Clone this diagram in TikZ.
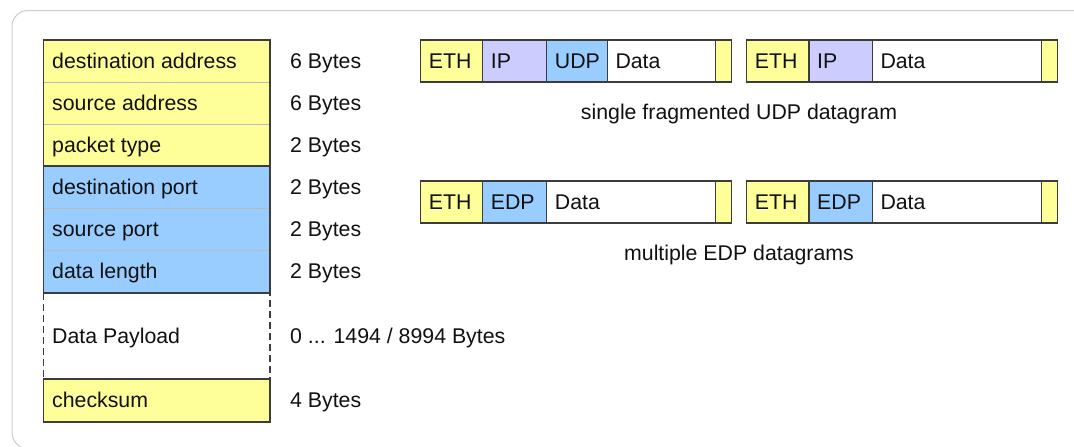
\documentclass[tikz,border=0pt]{standalone}
\usepackage{fontspec}
\setmainfont{Liberation Sans}
\definecolor{ylw}{HTML}{FFFF99}
\definecolor{blu}{HTML}{99CCFF}
\definecolor{lil}{HTML}{CCCCFF}
\definecolor{darkline}{HTML}{3C3C3C}
\definecolor{sepgray}{HTML}{BBBBBB}
\definecolor{framegray}{HTML}{CCCCCC}
\definecolor{txt}{HTML}{111111}
\newcommand\mkcell[6]{%
  \node[pcell, fill=#5, minimum width=#4pt] (#1) at (#2,#3) {};
  \node[lbl] (#1txt) at ([xshift=8pt,yshift=-7.2pt]#1.west) {#6};}
\newcommand\mktail[3]{%
  \node[pcell, fill=ylw, minimum width=15.5pt] (#1) at (#2,#3) {};}
\begin{document}
\begin{tikzpicture}[x=1pt,y=-1pt,
  font=\fontsize{21.3}{25}\selectfont,
  cell/.style={rectangle, draw=sepgray, line width=1pt, anchor=north west,
    inner sep=0pt, outer sep=0pt, minimum width=226.5pt},
  pcell/.style={rectangle, draw=darkline, line width=1.3pt, anchor=north west,
    inner sep=0pt, outer sep=0pt, minimum height=42pt},
  lbl/.style={anchor=base west, inner sep=0pt, text=txt},
  captext/.style={anchor=base, inner sep=0pt, text=txt},
  outline/.style={draw=darkline, line width=1.3pt}]
\useasboundingbox (0,0) rectangle (1074,447);
% frame
\draw[framegray, line width=1pt, rounded corners=16pt]
  (1100,10.5) -- (12,10.5) -- (12,448.5) -- (1100,448.5);
% left stack
\node[cell, fill=ylw, minimum height=42pt] (dstaddr) at (43.5,40) {};
\node[cell, fill=ylw, minimum height=42pt] (srcaddr) at (43.5,82) {};
\node[cell, fill=ylw, minimum height=42pt] (ptype) at (43.5,124) {};
\node[cell, fill=blu, minimum height=42pt] (dstport) at (43.5,166) {};
\node[cell, fill=blu, minimum height=42pt] (srcport) at (43.5,208) {};
\node[cell, fill=blu, minimum height=43pt] (dlen) at (43.5,250) {};
\node[cell, draw=none, fill=white, minimum height=86pt] (payload) at (43.5,293) {};
\node[cell, fill=ylw, minimum height=43pt] (csum) at (43.5,379) {};
\draw[outline] (dstaddr.north west) rectangle (ptype.south east);
\draw[outline] (dstport.north west) rectangle (dlen.south east);
\draw[outline] (csum.north west) rectangle (csum.south east);
\draw[darkline, line width=1.1pt, dash pattern=on 7pt off 4pt]
  (payload.north west) -- (payload.south west) -- (payload.south east) -- (payload.north east);
% left labels
\foreach \n/\t in {dstaddr/destination address, srcaddr/source address,
  ptype/packet type, dstport/destination port, srcport/source port,
  dlen/data length, payload/Data Payload, csum/checksum}
  \node[lbl] (\n lbl) at ([xshift=8.5pt,yshift=-7.2pt]\n.west) {\t};
\foreach \n/\t in {dstaddr/6 Bytes, srcaddr/6 Bytes, ptype/2 Bytes,
  dstport/2 Bytes, srcport/2 Bytes, dlen/2 Bytes, csum/4 Bytes}
  \node[lbl] (\n size) at ([xshift=20pt,yshift=-7.2pt]\n.east) {\t};
\node[lbl] (payloadsize) at ([xshift=20pt,yshift=-7.2pt]payload.east) {0 ... 1494 / 8994 Bytes};
% row 1, frame 1
\mkcell{ua}{420.7}{40}{62}{ylw}{ETH}
\mkcell{ub}{482.7}{40}{64}{lil}{IP}
\mkcell{uc}{546.7}{40}{60.6}{blu}{UDP}
\mkcell{ud}{607.3}{40}{108.4}{white}{Data}
\mktail{ue}{715.7}{40}
% row 1, frame 2
\mkcell{va}{746.7}{40}{62.3}{ylw}{ETH}
\mkcell{vb}{809}{40}{63.3}{lil}{IP}
\mkcell{vc}{872.3}{40}{169.4}{white}{Data}
\mktail{vd}{1041.7}{40}
\node[captext] (cap1) at (739,119.3) {single fragmented UDP datagram};
% row 2, frame 1
\mkcell{wa}{420.7}{181}{62}{ylw}{ETH}
\mkcell{wb}{482.7}{181}{64}{blu}{EDP}
\mkcell{wc}{546.7}{181}{169}{white}{Data}
\mktail{wd}{715.7}{181}
% row 2, frame 2
\mkcell{xa}{746.7}{181}{62.3}{ylw}{ETH}
\mkcell{xb}{809}{181}{63.3}{blu}{EDP}
\mkcell{xc}{872.3}{181}{169.4}{white}{Data}
\mktail{xd}{1041.7}{181}
\node[captext] (cap2) at (739,260.3) {multiple EDP datagrams};
\end{tikzpicture}
\end{document}
